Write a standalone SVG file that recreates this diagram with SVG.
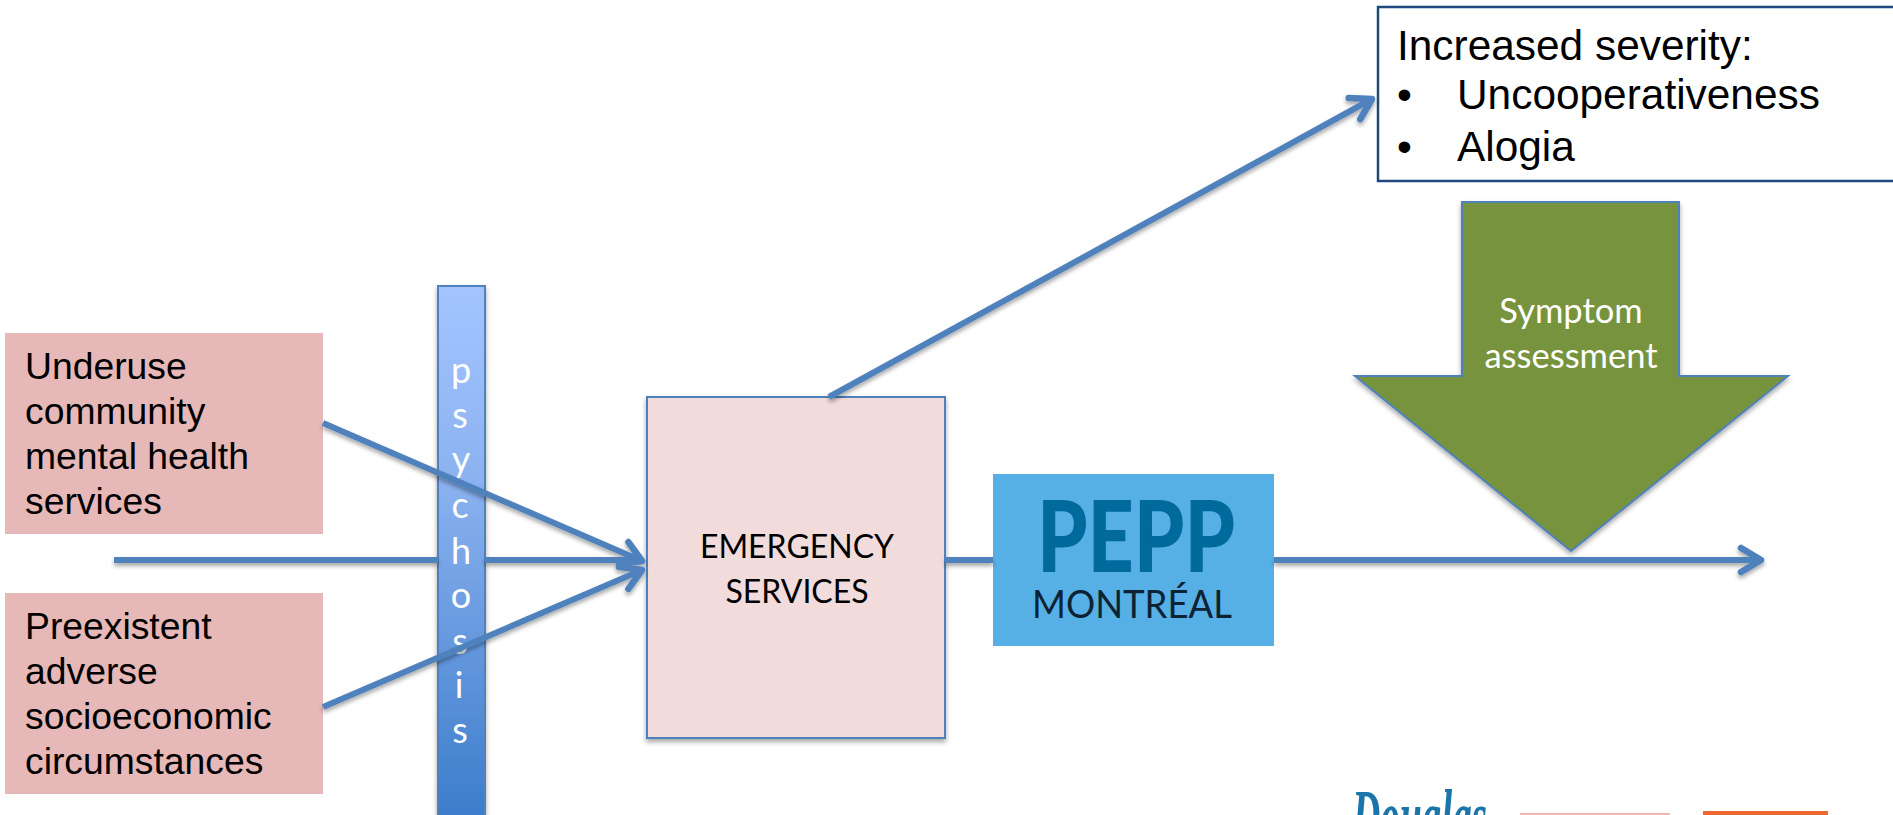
<svg xmlns="http://www.w3.org/2000/svg" width="1893" height="815" viewBox="0 0 1893 815">
<style>
.ar{font-family:"Liberation Sans",Arial,sans-serif;fill:#000}
.ca{font-family:Lato,"Open Sans",sans-serif}
.pink{fill:#e6b8b7}
.blue{stroke:#4f81bd;stroke-width:2}
.conn{fill:none;stroke:#4f81bd;stroke-width:6}
.head{marker-end:url(#open)}
.let{font-size:36px;fill:#fff;text-anchor:middle}
.big{font-size:37.3px}
.sev{font-size:42.4px}
.sym{font-size:34.5px;fill:#fff;text-anchor:middle}
.eme{font-size:32px;fill:#000;text-anchor:middle}
</style>
<defs>
<linearGradient id="bar" x1="0" y1="0" x2="0" y2="1">
<stop offset="0" stop-color="#a3c4ff"/><stop offset="0.35" stop-color="#8cb3f0"/><stop offset="1" stop-color="#3a7bca"/>
</linearGradient>
<filter id="sh" x="-20%" y="-20%" width="140%" height="140%"><feDropShadow dx="0" dy="3" stdDeviation="2.5" flood-color="#000" flood-opacity="0.35"/></filter>
<filter id="lsh" filterUnits="userSpaceOnUse" x="0" y="0" width="1893" height="815"><feDropShadow dx="0" dy="3" stdDeviation="2" flood-color="#000" flood-opacity="0.35"/></filter>
<marker id="open" markerUnits="userSpaceOnUse" viewBox="-30 -20 40 40" refX="0" refY="0" markerWidth="40" markerHeight="40" orient="auto">
<path d="M-20,-12 L0,0 L-20,12" fill="none" stroke="#4f81bd" stroke-width="6.5" stroke-linecap="round" stroke-linejoin="round"/>
</marker>
</defs>
<rect width="1893" height="815" fill="#fff"/>
<g id="underuse">
<rect class="pink" x="5" y="333" width="318" height="201"/>
<text class="ar big" x="25" y="379">Underuse</text>
<text class="ar big" x="25" y="424">community</text>
<text class="ar big" x="25" y="469">mental health</text>
<text class="ar big" x="25" y="514">services</text>
</g>
<g id="preexistent">
<rect class="pink" x="5" y="593" width="318" height="201"/>
<text class="ar big" x="25" y="639">Preexistent</text>
<text class="ar big" x="25" y="684">adverse</text>
<text class="ar big" x="25" y="729">socioeconomic</text>
<text class="ar big" x="25" y="774">circumstances</text>
</g>
<g id="psychosis">
<rect x="438" y="286" width="47" height="540" fill="url(#bar)" class="blue" filter="url(#sh)"/>
<text class="ca let" x="461" y="383">p</text>
<text class="ca let" x="460" y="428">s</text>
<text class="ca let" x="461" y="472">y</text>
<text class="ca let" x="460" y="518">c</text>
<text class="ca let" x="461" y="564">h</text>
<text class="ca let" x="461" y="608">o</text>
<text class="ca let" x="460" y="654">s</text>
<text class="ca let" x="459" y="698">i</text>
<text class="ca let" x="460" y="743">s</text>
</g>
<g id="emergency">
<rect x="647" y="397" width="298" height="341" fill="#f2dcdb" class="blue" filter="url(#sh)"/>
<text class="ca eme" x="797" y="558">EMERGENCY</text>
<text class="ca eme" x="797" y="603">SERVICES</text>
</g>
<g id="pepp">
<rect x="993" y="474" width="281" height="172" fill="#56b0e6"/>
<text x="1136" y="572" font-family="Lato,sans-serif" font-weight="900" font-size="100" fill="#006a9c" text-anchor="middle" textLength="198" lengthAdjust="spacingAndGlyphs">PEPP</text>
<text x="1132" y="618" font-family="Lato,sans-serif" font-size="39" fill="#0d2233" text-anchor="middle" textLength="200" lengthAdjust="spacingAndGlyphs">MONTRÉAL</text>
</g>
<g id="symptom">
<path d="M1462,202 H1679 V376 H1788 L1571,551 L1355,376 H1462 Z" fill="#77933c" class="blue" filter="url(#sh)"/>
<text class="ca sym" x="1571" y="323">Symptom</text>
<text class="ca sym" x="1571" y="368">assessment</text>
</g>
<g id="severity">
<rect x="1378" y="7" width="530" height="174" fill="#fff" stroke="#1f497d" stroke-width="2.5"/>
<text class="ar sev" x="1397" y="60">Increased severity:</text>
<text class="ar sev" x="1397" y="109">•</text>
<text class="ar sev" x="1457" y="109">Uncooperativeness</text>
<text class="ar sev" x="1397" y="161">•</text>
<text class="ar sev" x="1457" y="161">Alogia</text>
</g>
<g id="logos">
<text x="1352" y="843" font-family="Liberation Serif,serif" font-style="italic" font-weight="700" font-size="78" fill="#1a75aa" textLength="135" lengthAdjust="spacingAndGlyphs">Douglas</text>
<rect x="1520" y="813" width="150" height="2" fill="#f4b6b0"/>
<rect x="1703" y="811" width="125" height="4" fill="#f0682f"/>
</g>
<g id="connectors" filter="url(#lsh)">
<path class="conn" d="M114,560 H438"/>
<path class="conn" d="M485,560 H640"/>
<path class="conn" d="M945,560 H993"/>
<path class="conn head" d="M1274,560 H1761"/>
<path class="conn head" d="M323,423 L642,561"/>
<path class="conn head" d="M323,707 L642,570"/>
<path class="conn head" d="M829,397 L1372,99"/>
</g>
</svg>
